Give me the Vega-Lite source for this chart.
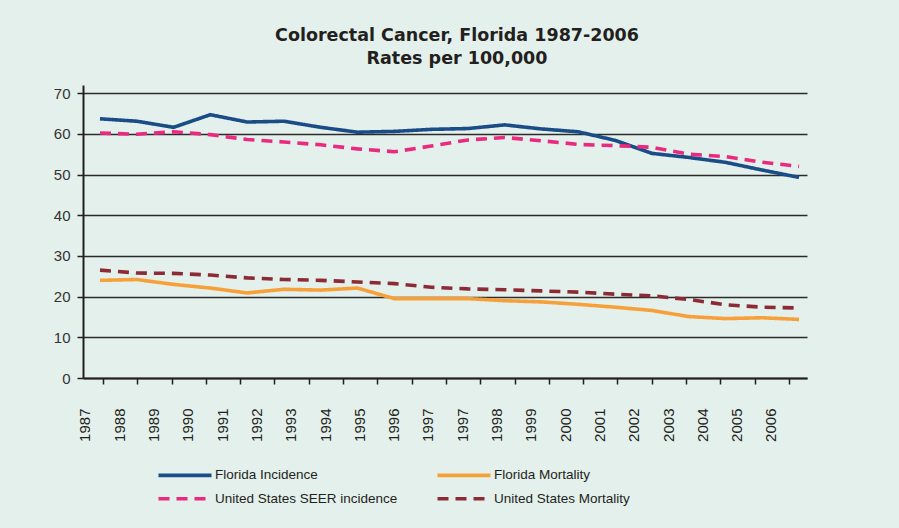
{
  "$schema": "https://vega.github.io/schema/vega-lite/v6.json",
  "width": 724,
  "height": 293,
  "autosize": "none",
  "padding": {"left": 83, "top": 85, "right": 92, "bottom": 150},
  "background": "#e4f0eb",
  "title": {
    "text": ["Colorectal Cancer, Florida 1987-2006", "Rates per 100,000"],
    "font": "DejaVu Sans",
    "fontSize": 17.5,
    "fontWeight": "bold",
    "color": "#231f20",
    "lineHeight": 23,
    "anchor": "middle",
    "frame": "group",
    "offset": 18,
    "dx": 12
  },
  "config": {"view": {"stroke": null}},
  "datasets": {
    "series": [
      {"year": 1987, "series": "Florida Incidence", "rate": 63.7},
      {"year": 1988, "series": "Florida Incidence", "rate": 63.1},
      {"year": 1989, "series": "Florida Incidence", "rate": 61.6},
      {"year": 1990, "series": "Florida Incidence", "rate": 64.7},
      {"year": 1991, "series": "Florida Incidence", "rate": 62.9},
      {"year": 1992, "series": "Florida Incidence", "rate": 63.1},
      {"year": 1993, "series": "Florida Incidence", "rate": 61.6},
      {"year": 1994, "series": "Florida Incidence", "rate": 60.4},
      {"year": 1995, "series": "Florida Incidence", "rate": 60.6},
      {"year": 1996, "series": "Florida Incidence", "rate": 61.1},
      {"year": 1997, "series": "Florida Incidence", "rate": 61.3},
      {"year": 1998, "series": "Florida Incidence", "rate": 62.2},
      {"year": 1999, "series": "Florida Incidence", "rate": 61.2},
      {"year": 2000, "series": "Florida Incidence", "rate": 60.5},
      {"year": 2001, "series": "Florida Incidence", "rate": 58.4},
      {"year": 2002, "series": "Florida Incidence", "rate": 55.2},
      {"year": 2003, "series": "Florida Incidence", "rate": 54.2},
      {"year": 2004, "series": "Florida Incidence", "rate": 53.0},
      {"year": 2005, "series": "Florida Incidence", "rate": 51.1},
      {"year": 2006, "series": "Florida Incidence", "rate": 49.3},
      {"year": 1987, "series": "Florida Mortality", "rate": 24.0},
      {"year": 1988, "series": "Florida Mortality", "rate": 24.2},
      {"year": 1989, "series": "Florida Mortality", "rate": 23.0},
      {"year": 1990, "series": "Florida Mortality", "rate": 22.1},
      {"year": 1991, "series": "Florida Mortality", "rate": 20.9},
      {"year": 1992, "series": "Florida Mortality", "rate": 21.8},
      {"year": 1993, "series": "Florida Mortality", "rate": 21.6},
      {"year": 1994, "series": "Florida Mortality", "rate": 22.1},
      {"year": 1995, "series": "Florida Mortality", "rate": 19.5},
      {"year": 1996, "series": "Florida Mortality", "rate": 19.5},
      {"year": 1997, "series": "Florida Mortality", "rate": 19.5},
      {"year": 1998, "series": "Florida Mortality", "rate": 19.0},
      {"year": 1999, "series": "Florida Mortality", "rate": 18.7},
      {"year": 2000, "series": "Florida Mortality", "rate": 18.1},
      {"year": 2001, "series": "Florida Mortality", "rate": 17.4},
      {"year": 2002, "series": "Florida Mortality", "rate": 16.6},
      {"year": 2003, "series": "Florida Mortality", "rate": 15.1},
      {"year": 2004, "series": "Florida Mortality", "rate": 14.6},
      {"year": 2005, "series": "Florida Mortality", "rate": 14.8},
      {"year": 2006, "series": "Florida Mortality", "rate": 14.4},
      {"year": 1987, "series": "United States SEER incidence", "rate": 60.2},
      {"year": 1988, "series": "United States SEER incidence", "rate": 59.9},
      {"year": 1989, "series": "United States SEER incidence", "rate": 60.5},
      {"year": 1990, "series": "United States SEER incidence", "rate": 59.8},
      {"year": 1991, "series": "United States SEER incidence", "rate": 58.6},
      {"year": 1992, "series": "United States SEER incidence", "rate": 58.0},
      {"year": 1993, "series": "United States SEER incidence", "rate": 57.3},
      {"year": 1994, "series": "United States SEER incidence", "rate": 56.3},
      {"year": 1995, "series": "United States SEER incidence", "rate": 55.6},
      {"year": 1996, "series": "United States SEER incidence", "rate": 57.0},
      {"year": 1997, "series": "United States SEER incidence", "rate": 58.5},
      {"year": 1998, "series": "United States SEER incidence", "rate": 59.1},
      {"year": 1999, "series": "United States SEER incidence", "rate": 58.3},
      {"year": 2000, "series": "United States SEER incidence", "rate": 57.4},
      {"year": 2001, "series": "United States SEER incidence", "rate": 57.1},
      {"year": 2002, "series": "United States SEER incidence", "rate": 56.7},
      {"year": 2003, "series": "United States SEER incidence", "rate": 55.0},
      {"year": 2004, "series": "United States SEER incidence", "rate": 54.4},
      {"year": 2005, "series": "United States SEER incidence", "rate": 53.0},
      {"year": 2006, "series": "United States SEER incidence", "rate": 52.0},
      {"year": 1987, "series": "United States Mortality", "rate": 26.5},
      {"year": 1988, "series": "United States Mortality", "rate": 25.8},
      {"year": 1989, "series": "United States Mortality", "rate": 25.7},
      {"year": 1990, "series": "United States Mortality", "rate": 25.3},
      {"year": 1991, "series": "United States Mortality", "rate": 24.6},
      {"year": 1992, "series": "United States Mortality", "rate": 24.2},
      {"year": 1993, "series": "United States Mortality", "rate": 24.0},
      {"year": 1994, "series": "United States Mortality", "rate": 23.6},
      {"year": 1995, "series": "United States Mortality", "rate": 23.2},
      {"year": 1996, "series": "United States Mortality", "rate": 22.3},
      {"year": 1997, "series": "United States Mortality", "rate": 21.9},
      {"year": 1998, "series": "United States Mortality", "rate": 21.7},
      {"year": 1999, "series": "United States Mortality", "rate": 21.4},
      {"year": 2000, "series": "United States Mortality", "rate": 21.1},
      {"year": 2001, "series": "United States Mortality", "rate": 20.6},
      {"year": 2002, "series": "United States Mortality", "rate": 20.2},
      {"year": 2003, "series": "United States Mortality", "rate": 19.3},
      {"year": 2004, "series": "United States Mortality", "rate": 18.0},
      {"year": 2005, "series": "United States Mortality", "rate": 17.4},
      {"year": 2006, "series": "United States Mortality", "rate": 17.2}
    ],
    "axisLabels": [
      {"k": 0, "label": "1987"}, {"k": 1, "label": "1988"}, {"k": 2, "label": "1989"},
      {"k": 3, "label": "1990"}, {"k": 4, "label": "1991"}, {"k": 5, "label": "1992"},
      {"k": 6, "label": "1993"}, {"k": 7, "label": "1994"}, {"k": 8, "label": "1995"},
      {"k": 9, "label": "1996"}, {"k": 10, "label": "1997"}, {"k": 11, "label": "1997"},
      {"k": 12, "label": "1998"}, {"k": 13, "label": "1999"}, {"k": 14, "label": "2000"},
      {"k": 15, "label": "2001"}, {"k": 16, "label": "2002"}, {"k": 17, "label": "2003"},
      {"k": 18, "label": "2004"}, {"k": 19, "label": "2005"}, {"k": 20, "label": "2006"}
    ]
  },
  "layer": [
    {
      "data": {"name": "series"},
      "mark": {"type": "line", "strokeWidth": 3.6, "strokeCap": "butt"},
      "encoding": {
        "x": {
          "field": "year", "type": "quantitative",
          "scale": {"domain": [1986.538, 2006.217], "nice": false, "zero": false},
          "axis": null
        },
        "y": {
          "field": "rate", "type": "quantitative",
          "scale": {"domain": [0, 72], "nice": false, "zero": true},
          "axis": {
            "values": [0, 10, 20, 30, 40, 50, 60, 70],
            "title": null,
            "grid": true,
            "gridColor": "#2b2b2b",
            "gridWidth": 1.5,
            "gridOpacity": 1,
            "domainColor": "#231f20",
            "domainWidth": 2,
            "tickColor": "#231f20",
            "tickWidth": 1.5,
            "tickSize": 6,
            "labelFont": "Liberation Sans",
            "labelFontSize": 15,
            "labelColor": "#333333",
            "labelPadding": 7
          }
        },
        "color": {
          "field": "series", "type": "nominal",
          "scale": {
            "domain": ["Florida Incidence", "United States SEER incidence", "Florida Mortality", "United States Mortality"],
            "range": ["#1a4c87", "#ea2a7e", "#f7a03a", "#8c2a36"]
          },
          "legend": {
            "orient": "none", "legendX": 86.5, "legendY": 374.75,
            "columns": 2, "title": null, "padding": 0,
            "symbolType": "M-2,0H2", "symbolSize": 702, "symbolStrokeWidth": 3.6,
            "labelFont": "Liberation Sans", "labelFontSize": 13.5,
            "labelColor": "#231f20", "labelOffset": 14.5, "labelLimit": 300,
            "columnPadding": 32, "rowPadding": 0.5,
            "encode": {"symbols": {"update": {"strokeDash": {"signal": "indexof(datum.label, 'United') === 0 ? [3.5, 4.5] : [1, 0]"}}}}
          }
        },
        "strokeDash": {
          "field": "series", "type": "nominal",
          "scale": {
            "domain": ["Florida Incidence", "United States SEER incidence", "Florida Mortality", "United States Mortality"],
            "range": [[1, 0], [11, 7], [1, 0], [11, 7]]
          },
          "legend": null
        }
      }
    },
    {
      "data": {"name": "axisLabels"},
      "mark": {"type": "point", "opacity": 0},
      "encoding": {
        "x": {
          "field": "k", "type": "quantitative",
          "scale": {"domain": [-0.583, 20.525], "nice": false, "zero": false},
          "axis": {
            "orient": "bottom",
            "values": [0, 1, 2, 3, 4, 5, 6, 7, 8, 9, 10, 11, 12, 13, 14, 15, 16, 17, 18, 19, 20],
            "labelExpr": "['1987','1988','1989','1990','1991','1992','1993','1994','1995','1996','1997','1997','1998','1999','2000','2001','2002','2003','2004','2005','2006'][datum.value]",
            "title": null,
            "grid": false,
            "labelAngle": -90,
            "labelOffset": -18,
            "labelOverlap": false,
            "labelFlush": false,
            "labelBound": false,
            "domainColor": "#231f20",
            "domainWidth": 2,
            "tickColor": "#231f20",
            "tickWidth": 1.5,
            "tickSize": 6,
            "labelFont": "Liberation Sans",
            "labelFontSize": 15,
            "labelColor": "#231f20",
            "labelPadding": 24
          }
        }
      }
    }
  ],
  "resolve": {"scale": {"x": "independent"}}
}
